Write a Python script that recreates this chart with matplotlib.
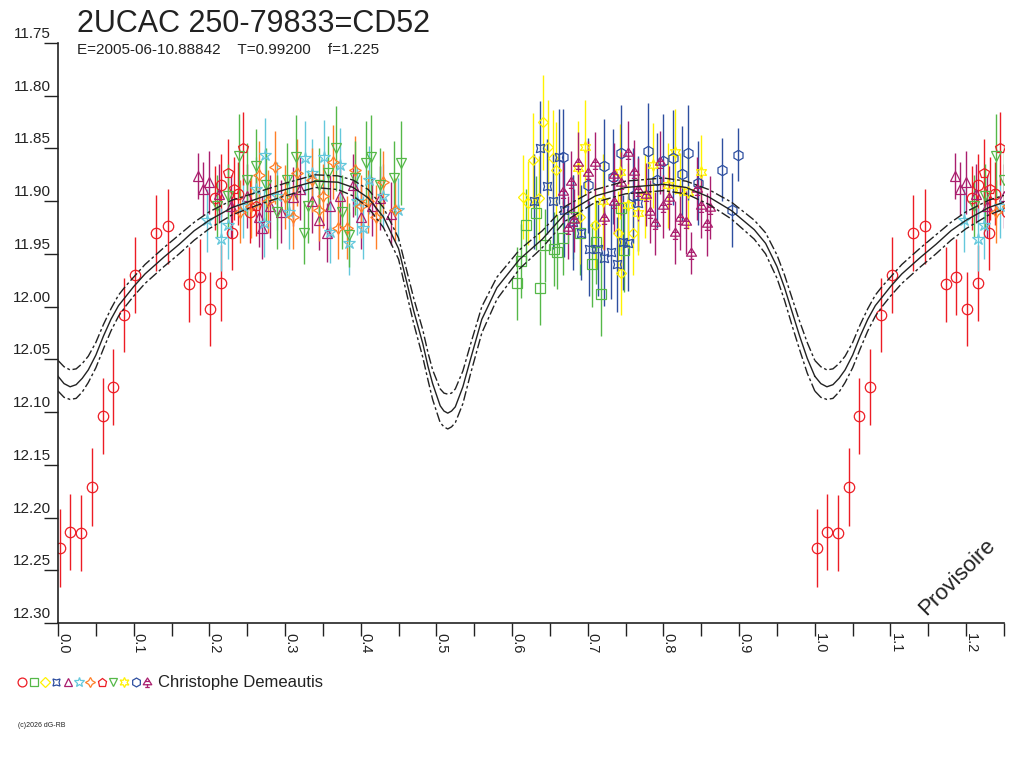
import matplotlib
matplotlib.use("Agg")
import matplotlib.pyplot as plt
import matplotlib.transforms as mtrans
from matplotlib.path import Path
import numpy as np

plt.rcParams['font.family'] = ['Liberation Sans', 'DejaVu Sans']

TITLE = "2UCAC 250-79833=CD52"
SUBTITLE = "E=2005-06-10.88842    T=0.99200    f=1.225"
OBSERVER = "Christophe Demeautis"

# model light curve (phase, solid, upper dashed, lower dashed)
model_phase = [0.000, 0.008, 0.016, 0.024, 0.032, 0.040, 0.050, 0.060, 0.070, 0.080, 0.090, 0.100,
               0.115, 0.140, 0.160, 0.180, 0.200, 0.230, 0.270, 0.300, 0.340, 0.370, 0.390, 0.410,
               0.430, 0.450, 0.470, 0.482, 0.489, 0.495, 0.505, 0.510, 0.515, 0.520, 0.525, 0.535,
               0.545, 0.560, 0.580, 0.610, 0.640, 0.670, 0.710, 0.750, 0.800, 0.830, 0.860, 0.890,
               0.920, 0.935, 0.950, 0.960, 0.970, 0.980, 0.990, 1.000]
model_mid = [12.066, 12.073, 12.076, 12.074, 12.068, 12.060, 12.046, 12.028, 12.012, 11.999, 11.990, 11.981,
             11.969, 11.953, 11.941, 11.928, 11.918, 11.906, 11.896, 11.889, 11.881, 11.882, 11.887, 11.897,
             11.915, 11.945, 12.004, 12.035, 12.057, 12.073, 12.094, 12.099, 12.101, 12.099, 12.095, 12.076,
             12.050, 12.012, 11.982, 11.955, 11.936, 11.912, 11.895, 11.887, 11.884, 11.887, 11.896, 11.909,
             11.927, 11.940, 11.962, 11.982, 12.005, 12.028, 12.049, 12.066]
model_up = [12.051, 12.057, 12.060, 12.059, 12.054, 12.047, 12.034, 12.017, 12.002, 11.989, 11.980, 11.972,
            11.960, 11.944, 11.932, 11.920, 11.910, 11.899, 11.890, 11.883, 11.875, 11.876, 11.880, 11.889,
            11.906, 11.935, 11.992, 12.022, 12.044, 12.060, 12.078, 12.082, 12.083, 12.082, 12.078, 12.061,
            12.036, 12.000, 11.972, 11.946, 11.928, 11.905, 11.889, 11.881, 11.878, 11.881, 11.889, 11.901,
            11.918, 11.930, 11.951, 11.970, 11.992, 12.014, 12.034, 12.051]
model_low = [12.080, 12.086, 12.088, 12.087, 12.081, 12.072, 12.058, 12.040, 12.023, 12.009, 11.999, 11.990,
             11.978, 11.962, 11.950, 11.937, 11.926, 11.913, 11.902, 11.895, 11.887, 11.889, 11.895, 11.906,
             11.925, 11.955, 12.016, 12.048, 12.070, 12.088, 12.110, 12.114, 12.116, 12.114, 12.110, 12.092,
             12.064, 12.025, 11.993, 11.964, 11.944, 11.919, 11.901, 11.893, 11.890, 11.893, 11.903, 11.917,
             11.936, 11.950, 11.973, 11.994, 12.018, 12.041, 12.063, 12.080]

# observations (phase, magnitude, error)
red_circle = [(0.003, 12.229, 0.037), (0.016, 12.214, 0.036), (0.030, 12.215, 0.036), (0.045, 12.171, 0.037),
              (0.059, 12.104, 0.036), (0.073, 12.076, 0.036), (0.087, 12.008, 0.035), (0.102, 11.970, 0.036),
              (0.130, 11.930, 0.036), (0.145, 11.924, 0.036), (0.173, 11.979, 0.036), (0.187, 11.972, 0.036),
              (0.201, 12.002, 0.035), (0.216, 11.978, 0.036), (0.230, 11.930, 0.035), (0.208, 11.897, 0.030),
              (0.215, 11.885, 0.030), (0.238, 11.893, 0.030), (0.254, 11.910, 0.030)]
green_square = [(0.607, 11.978, 0.035), (0.612, 11.957, 0.035), (0.619, 11.923, 0.035), (0.631, 11.911, 0.035),
                (0.637, 11.982, 0.035), (0.643, 11.942, 0.035), (0.656, 11.945, 0.035), (0.660, 11.948, 0.035),
                (0.667, 11.935, 0.035), (0.690, 11.930, 0.040), (0.705, 11.960, 0.040), (0.711, 11.939, 0.040),
                (0.718, 11.988, 0.040), (0.744, 11.906, 0.040), (0.748, 11.946, 0.040), (0.680, 11.915, 0.040)]
yellow_diamond = [(0.614, 11.896, 0.040), (0.621, 11.902, 0.040), (0.628, 11.861, 0.045), (0.635, 11.897, 0.040),
                  (0.641, 11.825, 0.045), (0.647, 11.849, 0.045), (0.654, 11.859, 0.045), (0.658, 11.870, 0.045),
                  (0.709, 11.923, 0.040), (0.740, 11.930, 0.040), (0.744, 11.968, 0.040), (0.760, 11.930, 0.040),
                  (0.690, 11.915, 0.045)]
blue_hourglass = [(0.629, 11.900, 0.045), (0.637, 11.850, 0.045), (0.646, 11.886, 0.045), (0.654, 11.900, 0.045),
                  (0.662, 11.858, 0.045), (0.669, 11.908, 0.045), (0.680, 11.920, 0.045), (0.691, 11.930, 0.045),
                  (0.702, 11.945, 0.045), (0.713, 11.945, 0.045), (0.722, 11.954, 0.045), (0.731, 11.948, 0.045),
                  (0.738, 11.960, 0.045), (0.747, 11.939, 0.045), (0.753, 11.940, 0.045), (0.767, 11.902, 0.045)]
magenta_tri = [(0.185, 11.876, 0.022), (0.192, 11.888, 0.025), (0.200, 11.882, 0.030), (0.213, 11.893, 0.028),
               (0.228, 11.905, 0.030), (0.250, 11.895, 0.030), (0.265, 11.915, 0.028), (0.280, 11.905, 0.030),
               (0.295, 11.910, 0.030), (0.310, 11.896, 0.028), (0.320, 11.888, 0.030), (0.335, 11.900, 0.030),
               (0.345, 11.918, 0.028), (0.360, 11.905, 0.030), (0.372, 11.895, 0.030), (0.390, 11.885, 0.030),
               (0.400, 11.915, 0.030), (0.415, 11.905, 0.028), (0.425, 11.897, 0.030), (0.440, 11.912, 0.030),
               (0.270, 11.925, 0.030), (0.355, 11.930, 0.028)]
cyan_star = [(0.197, 11.918, 0.030), (0.215, 11.936, 0.030), (0.224, 11.923, 0.032), (0.245, 11.905, 0.030),
             (0.272, 11.921, 0.032), (0.274, 11.856, 0.035), (0.290, 11.895, 0.032), (0.305, 11.910, 0.035),
             (0.327, 11.859, 0.035), (0.336, 11.873, 0.032), (0.351, 11.858, 0.035), (0.360, 11.929, 0.030),
             (0.373, 11.866, 0.035), (0.384, 11.940, 0.030), (0.395, 11.900, 0.032), (0.403, 11.925, 0.030),
             (0.411, 11.880, 0.032), (0.430, 11.895, 0.030), (0.449, 11.908, 0.030), (0.262, 11.888, 0.030)]
orange_4star = [(0.240, 11.910, 0.030), (0.255, 11.905, 0.030), (0.265, 11.875, 0.032), (0.287, 11.868, 0.035),
                (0.300, 11.896, 0.030), (0.310, 11.915, 0.030), (0.316, 11.873, 0.032), (0.335, 11.880, 0.030),
                (0.345, 11.908, 0.030), (0.350, 11.895, 0.030), (0.364, 11.863, 0.035), (0.370, 11.925, 0.030),
                (0.382, 11.925, 0.030), (0.392, 11.870, 0.032), (0.400, 11.905, 0.030), (0.410, 11.900, 0.030),
                (0.420, 11.915, 0.030), (0.430, 11.882, 0.030), (0.445, 11.908, 0.030), (0.278, 11.900, 0.030)]
red_pentagon = [(0.224, 11.873, 0.032), (0.245, 11.850, 0.035), (0.232, 11.888, 0.030), (0.262, 11.905, 0.028)]
green_vtri = [(0.210, 11.905, 0.030), (0.239, 11.857, 0.040), (0.250, 11.880, 0.035), (0.261, 11.867, 0.035),
              (0.275, 11.885, 0.035), (0.290, 11.910, 0.035), (0.302, 11.880, 0.035), (0.314, 11.858, 0.040),
              (0.325, 11.930, 0.030), (0.330, 11.905, 0.035), (0.345, 11.885, 0.035), (0.357, 11.873, 0.035),
              (0.367, 11.850, 0.040), (0.375, 11.910, 0.035), (0.384, 11.932, 0.030), (0.393, 11.878, 0.035),
              (0.407, 11.864, 0.040), (0.413, 11.858, 0.040), (0.425, 11.885, 0.035), (0.444, 11.878, 0.035),
              (0.453, 11.864, 0.040), (0.225, 11.895, 0.030)]
yellow_6star = [(0.687, 11.869, 0.045), (0.696, 11.849, 0.045), (0.742, 11.872, 0.045), (0.753, 11.904, 0.040),
                (0.767, 11.911, 0.040), (0.786, 11.866, 0.040), (0.806, 11.885, 0.040), (0.815, 11.853, 0.040),
                (0.822, 11.889, 0.035), (0.833, 11.891, 0.035), (0.850, 11.872, 0.035), (0.720, 11.900, 0.045),
                (0.775, 11.895, 0.040)]
blue_hex = [(0.667, 11.858, 0.045), (0.722, 11.867, 0.045), (0.733, 11.877, 0.045), (0.744, 11.854, 0.045),
            (0.760, 11.895, 0.045), (0.779, 11.852, 0.045), (0.791, 11.880, 0.045), (0.800, 11.862, 0.045),
            (0.813, 11.859, 0.045), (0.824, 11.874, 0.045), (0.833, 11.854, 0.045), (0.846, 11.883, 0.040),
            (0.878, 11.870, 0.030), (0.890, 11.908, 0.035), (0.899, 11.856, 0.025), (0.700, 11.885, 0.045)]
magenta_orn = [(0.667, 11.891, 0.030), (0.674, 11.925, 0.030), (0.678, 11.882, 0.030), (0.682, 11.918, 0.030),
               (0.687, 11.864, 0.030), (0.700, 11.873, 0.030), (0.709, 11.864, 0.030), (0.722, 11.916, 0.030),
               (0.735, 11.875, 0.030), (0.735, 11.901, 0.030), (0.744, 11.883, 0.030), (0.753, 11.854, 0.030),
               (0.761, 11.872, 0.030), (0.767, 11.889, 0.030), (0.777, 11.894, 0.030), (0.782, 11.910, 0.030),
               (0.789, 11.921, 0.030), (0.795, 11.863, 0.030), (0.800, 11.905, 0.030), (0.808, 11.897, 0.030),
               (0.815, 11.930, 0.030), (0.822, 11.916, 0.030), (0.830, 11.920, 0.030), (0.837, 11.949, 0.020),
               (0.844, 11.888, 0.030), (0.850, 11.905, 0.030), (0.857, 11.922, 0.030), (0.861, 11.906, 0.030)]

y_ticks = [11.75, 11.80, 11.85, 11.90, 11.95, 12.00, 12.05, 12.10, 12.15, 12.20, 12.25, 12.30]
x_ticks = [0.0, 0.1, 0.2, 0.3, 0.4, 0.5, 0.6, 0.7, 0.8, 0.9, 1.0, 1.1, 1.2]
x_max = 1.25

RED, GREEN, YELLOW, BLUE = '#ed1c24', '#55b848', '#fff200', '#2e4fa0'
MAGENTA, CYAN, ORANGE = '#aa1e6e', '#64c8dc', '#ff7f27'

orn_path = Path([(0, 0.9), (-0.85, -0.45), (0.85, -0.45), (0, 0.9),
                 (-0.45, 0.2), (0.45, 0.2), (0, -0.45), (0, -1.0), (-0.45, -1.0), (0.45, -1.0)],
                [Path.MOVETO, Path.LINETO, Path.LINETO, Path.CLOSEPOLY,
                 Path.MOVETO, Path.LINETO, Path.MOVETO, Path.LINETO, Path.MOVETO, Path.LINETO])

series = [
    (red_circle, RED, 'o', 7.5),
    (green_square, GREEN, 's', 6.5),
    (yellow_diamond, YELLOW, 'D', 5.5),
    (blue_hourglass, BLUE, (4, 1, 45), 8.5),
    (magenta_tri, MAGENTA, '^', 7.5),
    (cyan_star, CYAN, '*', 9),
    (orange_4star, ORANGE, (4, 1, 0), 8.5),
    (red_pentagon, RED, 'p', 7.5),
    (green_vtri, GREEN, 'v', 7.5),
    (yellow_6star, YELLOW, (6, 1, 0), 8.5),
    (blue_hex, BLUE, 'h', 7.5),
    (magenta_orn, MAGENTA, orn_path, 8.5),
]

fig = plt.figure(figsize=(10.24, 7.68), dpi=100)
L, R, T, B = 58, 1004, 43, 623
ax = fig.add_axes([L / 1024, 1 - B / 768, (R - L) / 1024, (B - T) / 768])
ax.set_xlim(0, x_max)
ax.set_ylim(12.30, 11.75)
for s in ['top', 'right']:
    ax.spines[s].set_visible(False)
for s in ['left', 'bottom']:
    ax.spines[s].set_linewidth(1.2)
    ax.spines[s].set_color('#222222')

# data (the reference repeats phases < 0.25 after phase 1)
for data, col, mk, ms in series:
    arr = np.array(data)
    for shift in (0.0, 1.0):
        ph = arr[:, 0] + shift
        keep = ph <= x_max + 0.005
        if not keep.any():
            continue
        ax.errorbar(ph[keep], arr[keep, 1], yerr=arr[keep, 2], fmt='none', ecolor=col,
                    elinewidth=1.0, capsize=0, zorder=2, clip_on=True)
        ax.plot(ph[keep], arr[keep, 1], linestyle='none', marker=mk, markersize=ms,
                markerfacecolor='none', markeredgecolor=col, markeredgewidth=0.9, zorder=2.5)

# model curves
mp = np.array(model_phase)
for shift in (0.0, 1.0):
    ax.plot(mp + shift, model_mid, color='#222222', lw=1.0, zorder=4)
    ax.plot(mp + shift, model_up, color='#222222', lw=1.0, dashes=(7, 2, 2, 2), zorder=4)
    ax.plot(mp + shift, model_low, color='#222222', lw=1.0, dashes=(7, 2, 2, 2), zorder=4)

# ticks
ax.set_yticks(y_ticks)
ax.set_yticklabels([])
ax.tick_params(axis='y', direction='out', length=10, width=1.0, color='#222222')
ax.set_xticks(x_ticks + [x_max])
ax.set_xticks([t + 0.05 for t in x_ticks], minor=True)
ax.set_xticklabels([])
ax.tick_params(axis='x', which='both', direction='out', length=9, width=1.0, color='#222222')

ytr = mtrans.offset_copy(ax.get_yaxis_transform(), fig=fig, x=-7, y=5, units='dots')
for t in y_ticks:
    ax.text(0, t, f"{t:.2f}", transform=ytr, ha='right', va='baseline', fontsize=11,
            color='#222222', clip_on=False)
xtr = mtrans.offset_copy(ax.get_xaxis_transform(), fig=fig, x=1, y=-10, units='dots')
for t in x_ticks:
    ax.text(t, 0, f"{t:.1f}", transform=xtr, ha='left', va='baseline', rotation=-90,
            rotation_mode='anchor', fontsize=10.5, color='#222222', clip_on=False)

# titles
fig.text(77 / 1024, 1 - 31.5 / 768, TITLE, fontsize=22, color='#222222', ha='left', va='baseline')
fig.text(77 / 1024, 1 - 54 / 768, SUBTITLE, fontsize=11, color='#222222', ha='left', va='baseline')

# watermark
fig.text(957 / 1024, 1 - 577 / 768, "Provisoire", rotation=45, ha='center', va='center',
         fontsize=16, color='#222222')

# legend row
lax = fig.add_axes([0, 1 - 700 / 768, 1, 36 / 768])
lax.set_xlim(0, 1024)
lax.set_ylim(0, 36)
lax.axis('off')
for i, (data, col, mk, ms) in enumerate(series):
    lax.plot([22.3 + i * 11.35], [18.3], linestyle='none', marker=mk, markersize=ms * 0.85,
             markerfacecolor='none', markeredgecolor=col, markeredgewidth=0.9)
lax.text(158, 18, OBSERVER, fontsize=12, color='#222222', ha='left', va='center')

fig.text(18 / 1024, 1 - 727 / 768, "(c)2026 dG-RB", fontsize=5, color='#222222', ha='left', va='baseline')

fig.savefig("out.png", dpi=100, facecolor='white')
